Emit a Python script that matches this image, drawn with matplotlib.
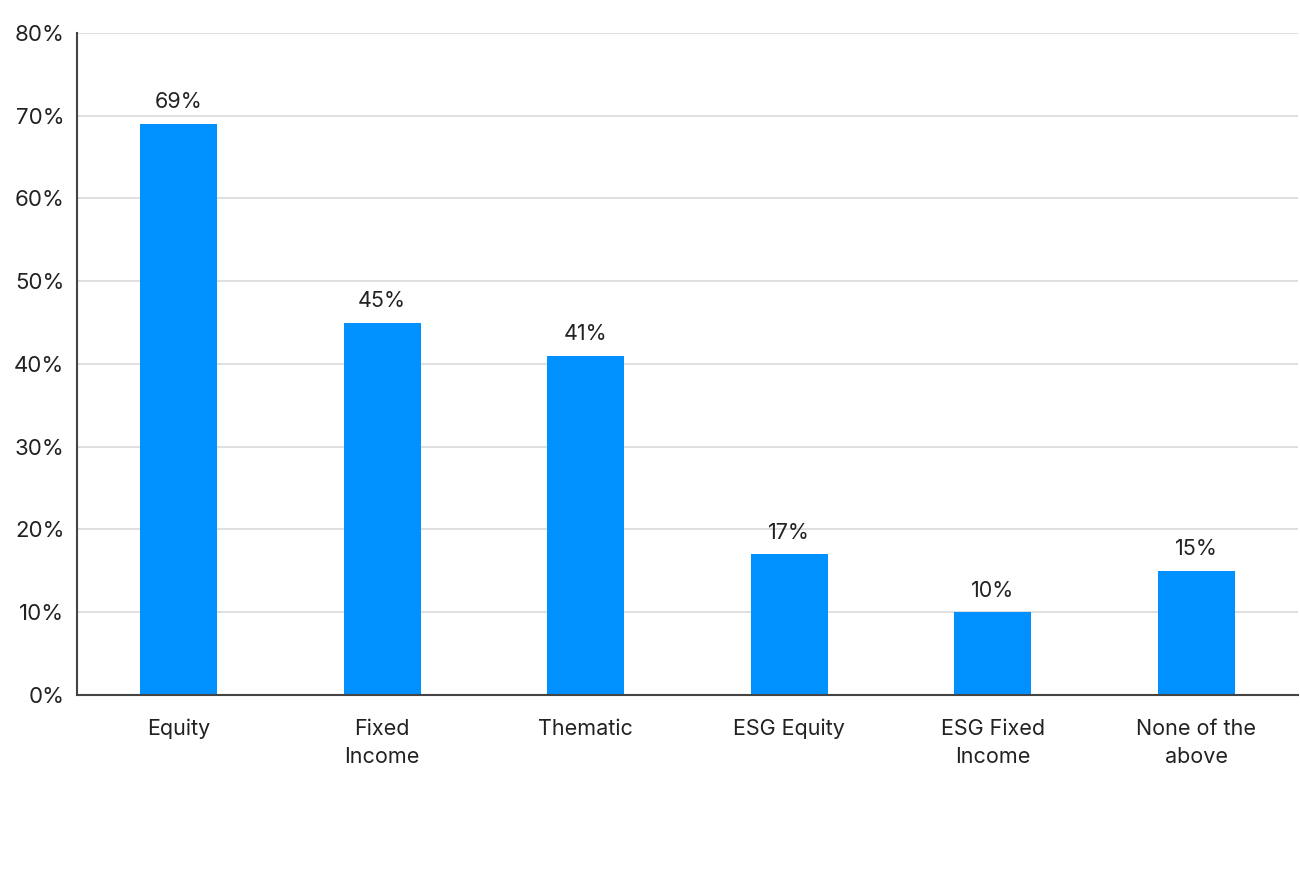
import matplotlib
matplotlib.use("Agg")
import matplotlib.pyplot as plt
from matplotlib.ticker import FuncFormatter

categories = ["Equity", "Fixed\nIncome", "Thematic", "ESG Equity", "ESG Fixed\nIncome", "None of the\nabove"]
values = [69, 45, 41, 17, 10, 15]
yticks = [0, 10, 20, 30, 40, 50, 60, 70, 80]

plt.rcParams['font.family'] = ['Inter', 'DejaVu Sans']

fig = plt.figure(figsize=(13, 8.86), dpi=100)
ax = fig.add_axes([0.0592, 0.2156, 0.9393, 0.7472])

x = list(range(len(categories)))
ax.bar(x, values, width=0.38, color="#0091FF", zorder=3)
for xi, v in zip(x, values):
    ax.text(xi, v + 1.4, f"{v}%", ha="center", va="bottom", fontsize=15.5, color="#222222")

ax.set_xlim(-0.5, 5.5)
ax.set_ylim(0, 80)
ax.set_yticks(yticks)
ax.yaxis.set_major_formatter(FuncFormatter(lambda v, p: f"{int(v)}%"))
ax.set_xticks(x)
ax.set_xticklabels(categories, fontsize=15.5, color="#222222", linespacing=1.55)
ax.tick_params(axis="y", labelsize=16, labelcolor="#222222", length=0, pad=9)
ax.tick_params(axis="x", length=0, pad=17)
ax.grid(axis="y", color="#d9d9d9", linewidth=1.2, zorder=0)
ax.set_axisbelow(True)
for s in ["top", "right"]:
    ax.spines[s].set_visible(False)
for s in ["left", "bottom"]:
    ax.spines[s].set_color("#444444")
    ax.spines[s].set_linewidth(1.5)
    ax.spines[s].set_zorder(4)

fig.savefig("out.png", dpi=100, facecolor="white")
